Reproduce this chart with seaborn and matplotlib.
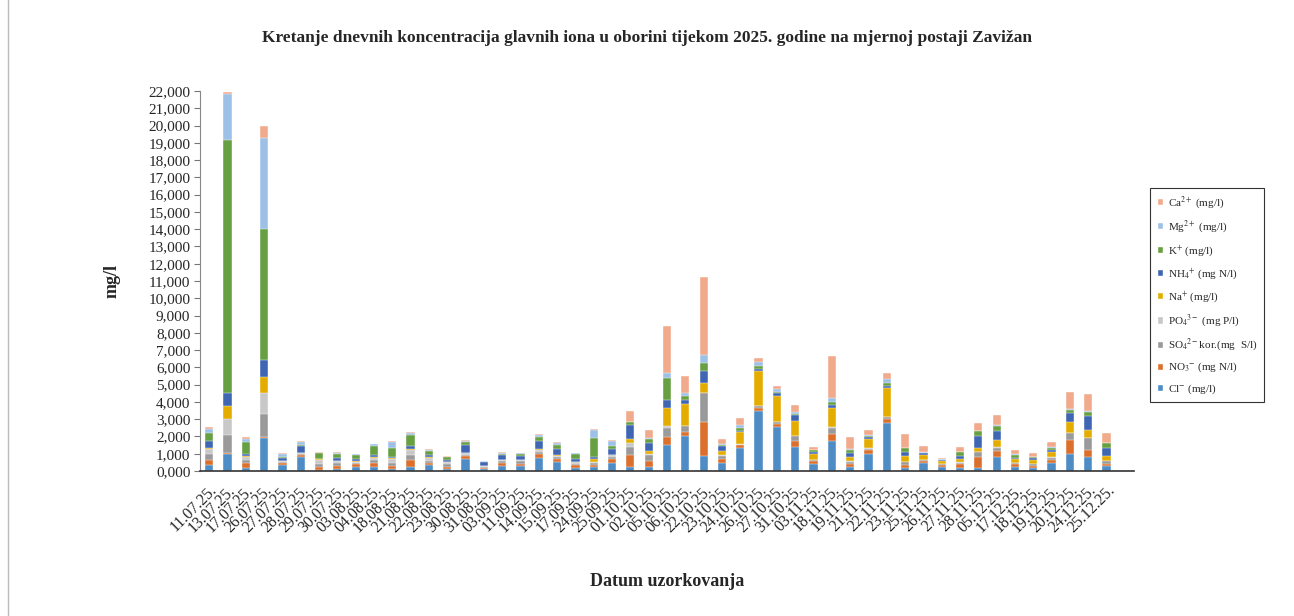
import numpy as np
import pandas as pd
import matplotlib
matplotlib.use('Agg')
import matplotlib.pyplot as plt
import seaborn as sns
from matplotlib.patches import Patch
from matplotlib.lines import Line2D
from matplotlib.ticker import FuncFormatter, MultipleLocator, FixedLocator

# datumi uzorkovanja (postaja Zavižan, 2025.)
dates = ['11.07.25.', '13.07.25.', '17.07.25.', '26.07.25.', '27.07.25.',
         '28.07.25.', '29.07.25.', '30.07.25.', '03.08.25.', '04.08.25.',
         '18.08.25.', '21.08.25.', '22.08.25.', '23.08.25.', '30.08.25.',
         '31.08.25.', '03.09.25.', '11.09.25.', '14.09.25.', '15.09.25.',
         '17.09.25.', '24.09.25.', '25.09.25.', '01.10.25.', '02.10.25.',
         '05.10.25.', '06.10.25.', '22.10.25.', '23.10.25.', '24.10.25.',
         '26.10.25.', '27.10.25.', '31.10.25.', '03.11.25.', '18.11.25.',
         '19.11.25.', '21.11.25.', '22.11.25.', '23.11.25.', '25.11.25.',
         '26.11.25.', '27.11.25.', '28.11.25.', '05.12.25.', '17.12.25.',
         '18.12.25.', '19.12.25.', '20.12.25.', '24.12.25.', '25.12.25.']

# koncentracije (mg/l), procijenjene s grafa
cl = [0.32, 0.97, 0.15, 1.89, 0.32, 0.79, 0.06, 0.135, 0.23, 0.21,
      0.095, 0.23, 0.345, 0.095, 0.715, 0.135, 0.31, 0.27, 0.77, 0.54,
      0.195, 0.21, 0.465, 0.25, 0.21, 1.49, 2.025, 0.87, 0.445, 1.33,
      3.49, 2.545, 1.41, 0.425, 1.755, 0.23, 0.965, 2.80, 0.175, 0.48,
      0.25, 0.155, 0.155, 0.79, 0.25, 0.195, 0.445, 0.965, 0.79, 0.29]
no3 = [0.34, 0.08, 0.33, 0.08, 0.12, 0.135, 0.19, 0.175, 0.15, 0.23,
       0.21, 0.425, 0.115, 0.135, 0.135, 0.06, 0.155, 0.155, 0.21, 0.155,
       0.155, 0.115, 0.21, 0.655, 0.385, 0.48, 0.25, 1.95, 0.25, 0.155,
       0.175, 0.195, 0.345, 0.155, 0.385, 0.175, 0.23, 0.23, 0.195, 0.095,
       0.115, 0.25, 0.655, 0.345, 0.135, 0.115, 0.195, 0.83, 0.425, 0.095]
so4 = [0.34, 1.02, 0.17, 1.31, 0.08, 0.06, 0.17, 0.155, 0.095, 0.175,
       0.175, 0.29, 0.135, 0.15, 0.095, 0.06, 0.095, 0.135, 0.135, 0.095,
       0.075, 0.135, 0.135, 0.48, 0.345, 0.52, 0.33, 1.70, 0.155, 0.04,
       0.075, 0.095, 0.25, 0.055, 0.365, 0.135, 0.095, 0.095, 0.155, 0.055,
       0.055, 0.075, 0.29, 0.21, 0.075, 0.095, 0.135, 0.405, 0.675, 0.195]
po4 = [0.30, 0.96, 0.17, 1.22, 0.06, 0.04, 0.23, 0.115, 0.06, 0.135,
       0.23, 0.29, 0.17, 0.13, 0.075, 0.04, 0.06, 0.075, 0.075, 0.06,
       0.075, 0.075, 0.095, 0.21, 0.06, 0.115, 0.02, 0.02, 0.06, 0.02,
       0.02, 0.02, 0.02, 0.02, 0.02, 0.02, 0.02, 0.02, 0.02, 0.02,
       0.01, 0.02, 0.02, 0.02, 0.02, 0.02, 0.02, 0.02, 0.02, 0.02]
na = [0.03, 0.71, 0.02, 0.95, 0.02, 0.02, 0.02, 0.02, 0.04, 0.055,
      0.02, 0.02, 0.02, 0.02, 0.02, 0.01, 0.04, 0.02, 0.075, 0.055,
      0.02, 0.175, 0.04, 0.23, 0.135, 1.04, 1.255, 0.58, 0.23, 0.695,
      2.005, 1.485, 0.85, 0.33, 1.14, 0.25, 0.56, 1.64, 0.345, 0.29,
      0.135, 0.21, 0.23, 0.445, 0.23, 0.195, 0.29, 0.635, 0.485, 0.25]
nh4 = [0.38, 0.79, 0.12, 0.96, 0.17, 0.42, 0.04, 0.135, 0.115, 0.135,
       0.095, 0.175, 0.155, 0.095, 0.48, 0.19, 0.27, 0.23, 0.465, 0.385,
       0.175, 0.075, 0.33, 0.83, 0.48, 0.465, 0.23, 0.695, 0.31, 0.075,
       0.135, 0.155, 0.345, 0.135, 0.135, 0.23, 0.095, 0.135, 0.23, 0.075,
       0.055, 0.175, 0.655, 0.48, 0.06, 0.115, 0.155, 0.52, 0.77, 0.485]
k = [0.51, 14.61, 0.72, 7.62, 0.02, 0.04, 0.31, 0.27, 0.23, 0.52,
     0.52, 0.635, 0.21, 0.17, 0.135, 0.055, 0.075, 0.095, 0.25, 0.23,
     0.27, 1.10, 0.175, 0.155, 0.23, 1.275, 0.25, 0.465, 0.075, 0.175,
     0.155, 0.095, 0.075, 0.075, 0.175, 0.155, 0.075, 0.175, 0.195, 0.055,
     0.04, 0.195, 0.29, 0.31, 0.135, 0.06, 0.115, 0.135, 0.23, 0.27]
mg = [0.23, 2.66, 0.20, 5.27, 0.21, 0.15, 0.02, 0.055, 0.04, 0.075,
      0.31, 0.135, 0.055, 0.035, 0.095, 0.02, 0.04, 0.055, 0.115, 0.115,
      0.055, 0.50, 0.27, 0.04, 0.04, 0.29, 0.135, 0.445, 0.055, 0.175,
      0.25, 0.135, 0.135, 0.04, 0.25, 0.055, 0.055, 0.21, 0.04, 0.02,
      0.02, 0.02, 0.04, 0.055, 0.055, 0.02, 0.02, 0.095, 0.075, 0.04]
ca = [0.07, 0.13, 0.06, 0.68, 0.06, 0.055, 0.04, 0.055, 0.035, 0.055,
      0.095, 0.075, 0.04, 0.035, 0.055, 0.02, 0.035, 0.035, 0.075, 0.055,
      0.035, 0.06, 0.055, 0.62, 0.50, 2.74, 1.005, 4.535, 0.27, 0.425,
      0.23, 0.195, 0.405, 0.175, 2.45, 0.735, 0.25, 0.385, 0.77, 0.345,
      0.055, 0.27, 0.465, 0.58, 0.27, 0.25, 0.31, 0.945, 0.985, 0.56]

# redoslijed slaganja odozdo prema gore
labels = [r'Cl$^{-}$ (mg/l)', r'NO$_3$$^{-}$ (mg N/l)', r'SO$_4$$^{2-}$kor.(mg  S/l)',
          r'PO$_4$$^{3-}$ (mg P/l)', r'Na$^{+}$ (mg/l)', r'NH$_4$$^{+}$ (mg N/l)',
          r'K$^{+}$ (mg/l)', r'Mg$^{2+}$ (mg/l)', r'Ca$^{2+}$ (mg/l)']
series = [cl, no3, so4, po4, na, nh4, k, mg, ca]
colors = ['#4E8CC6', '#DB6F2B', '#9A9A9A', '#C8C8C8', '#E5AC00',
          '#3E66B3', '#67A043', '#9DC0E6', '#F2AA8C']

df = pd.DataFrame(np.array(series).T, columns=labels)
df['Datum'] = dates
cum = df[labels].cumsum(axis=1)

sns.set_style('white')
plt.rcParams['font.family'] = ['Liberation Serif', 'DejaVu Serif']
plt.rcParams['mathtext.fontset'] = 'stix'

fig = plt.figure(figsize=(12.94, 6.16), dpi=100)
ax = fig.add_axes([200 / 1294, 145 / 616, 934 / 1294, 380 / 616])

# kumulativni stupci, od najvišeg sloja prema najnižem
for lab, col in zip(labels[::-1], colors[::-1]):
    sns.barplot(x=df['Datum'], y=cum[lab], color=col, width=0.45,
                edgecolor='white', linewidth=0.3, saturation=1, ax=ax)

ax.set_xlim(-0.5, len(dates) + 0.5)
ax.set_ylim(0, 22)
ax.yaxis.set_major_locator(MultipleLocator(1))
ax.yaxis.set_major_formatter(FuncFormatter(lambda v, p: f'{v:.3f}'.replace('.', ',')))

ax.set_xticks(range(len(dates)))
ax.set_xticklabels(dates, rotation=45, ha='right', rotation_mode='anchor', fontsize=11.5)
ax.xaxis.set_minor_locator(FixedLocator(np.arange(-0.5, len(dates) + 1, 1)))
ax.tick_params(axis='x', which='major', length=0, pad=8)
ax.tick_params(axis='x', which='minor', length=5, color='#999999', width=1)
ax.tick_params(axis='y', length=4, color='#777777', labelsize=11, pad=3)
ax.tick_params(axis='y', left=True, direction='out')

for s in ['top', 'right']:
    ax.spines[s].set_visible(False)
ax.spines['left'].set_color('#888888')
ax.spines['bottom'].set_color('#333333')
ax.spines['bottom'].set_linewidth(1.2)

ax.set_xlabel('Datum uzorkovanja', fontsize=13, fontweight='bold', labelpad=27)
ax.set_ylabel('mg/l', fontsize=13, fontweight='bold', labelpad=20)
fig.text(0.5, 1 - 38 / 616, 'Kretanje dnevnih koncentracija glavnih iona u oborini tijekom 2025. godine na mjernoj postaji Zavižan',
         ha='center', va='center', fontsize=12.5, fontweight='bold')

handles = [Patch(facecolor=c, label=l) for l, c in zip(labels, colors)][::-1]
leg = fig.legend(handles=handles, loc='center left', bbox_to_anchor=(1150 / 1294, 1 - 295 / 616),
                 borderaxespad=0, fontsize=8, frameon=True, fancybox=False, edgecolor='black',
                 handlelength=0.6, handleheight=0.6, handletextpad=0.4,
                 labelspacing=0.68, borderpad=0.6)
leg.get_frame().set_linewidth(0.8)

fig.add_artist(Line2D([8 / 1294, 8 / 1294], [0, 1], color='#bbbbbb', linewidth=1))

fig.savefig('out.png', dpi=100)
